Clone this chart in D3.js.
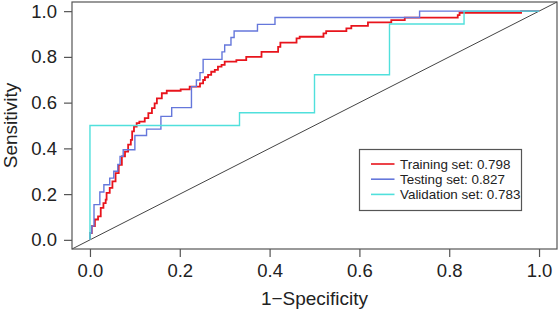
<!DOCTYPE html>
<html>
<head>
<meta charset="utf-8">
<script src="https://cdn.jsdelivr.net/npm/d3@7"></script>
<style>
  body { margin: 0; background: #fff; }
  svg { display: block; font-family: 'Liberation Sans', Arial, Helvetica, sans-serif; }
</style>
</head>
<body>
<div id="chart"></div>
<script>
// ROC curve points: [1-specificity, sensitivity]
const trainingRoc = [
  [0, 0], [0, 0.03], [0.004, 0.03], [0.004, 0.06], [0.011, 0.06], [0.011, 0.089],
  [0.018, 0.089], [0.018, 0.103], [0.024, 0.103], [0.024, 0.14], [0.03, 0.14],
  [0.03, 0.161], [0.035, 0.161], [0.035, 0.176], [0.037, 0.176], [0.037, 0.205],
  [0.044, 0.205], [0.044, 0.227], [0.05, 0.227], [0.05, 0.256], [0.057, 0.256],
  [0.057, 0.292], [0.064, 0.292], [0.064, 0.328], [0.071, 0.328], [0.071, 0.365],
  [0.078, 0.365], [0.078, 0.386], [0.085, 0.386], [0.085, 0.416], [0.091, 0.416],
  [0.091, 0.437], [0.094, 0.437], [0.094, 0.474], [0.098, 0.474], [0.098, 0.495],
  [0.104, 0.495], [0.104, 0.51], [0.11, 0.51], [0.11, 0.517], [0.122, 0.517],
  [0.122, 0.532], [0.13, 0.532], [0.13, 0.554], [0.138, 0.554], [0.138, 0.576],
  [0.144, 0.576], [0.144, 0.597], [0.149, 0.597], [0.149, 0.619], [0.16, 0.619],
  [0.16, 0.641], [0.171, 0.641], [0.171, 0.652], [0.202, 0.652], [0.202, 0.658],
  [0.222, 0.658], [0.222, 0.67], [0.245, 0.67], [0.245, 0.684], [0.252, 0.684],
  [0.252, 0.699], [0.256, 0.699], [0.256, 0.711], [0.263, 0.711], [0.263, 0.721],
  [0.27, 0.721], [0.27, 0.735], [0.278, 0.735], [0.278, 0.743], [0.285, 0.743],
  [0.285, 0.757], [0.293, 0.757], [0.293, 0.765], [0.3, 0.765], [0.3, 0.779],
  [0.326, 0.779], [0.326, 0.786], [0.348, 0.786], [0.348, 0.8], [0.382, 0.8],
  [0.382, 0.822], [0.419, 0.822], [0.419, 0.844], [0.424, 0.844], [0.424, 0.862],
  [0.46, 0.862], [0.46, 0.881], [0.467, 0.881], [0.467, 0.888], [0.52, 0.888],
  [0.52, 0.903], [0.526, 0.903], [0.526, 0.913], [0.571, 0.913], [0.571, 0.925],
  [0.582, 0.925], [0.582, 0.936], [0.619, 0.936], [0.619, 0.951], [0.671, 0.951],
  [0.671, 0.961], [0.701, 0.961], [0.701, 0.972], [0.819, 0.972], [0.819, 0.983],
  [0.823, 0.983], [0.823, 0.993], [0.96, 0.993], [0.96, 1], [1, 1]
]

const testingRoc = [
  [0, 0], [0, 0.03], [0.004, 0.03], [0.004, 0.06], [0.009, 0.06], [0.009, 0.154],
  [0.022, 0.154], [0.022, 0.209], [0.031, 0.209], [0.031, 0.241], [0.044, 0.241],
  [0.044, 0.27], [0.053, 0.27], [0.053, 0.3], [0.062, 0.3], [0.062, 0.33],
  [0.067, 0.33], [0.067, 0.365], [0.074, 0.365], [0.074, 0.394], [0.1, 0.394],
  [0.1, 0.456], [0.126, 0.456], [0.126, 0.484], [0.158, 0.484], [0.158, 0.54],
  [0.182, 0.54], [0.182, 0.578], [0.226, 0.578], [0.226, 0.67], [0.237, 0.67],
  [0.237, 0.699], [0.245, 0.699], [0.245, 0.731], [0.252, 0.731], [0.252, 0.789],
  [0.294, 0.789], [0.294, 0.822], [0.3, 0.822], [0.3, 0.852], [0.314, 0.852],
  [0.314, 0.885], [0.321, 0.885], [0.321, 0.913], [0.373, 0.913], [0.373, 0.942],
  [0.412, 0.942], [0.412, 0.972], [0.734, 0.972], [0.734, 1], [1, 1]
]

const validationRoc = [
  [0, 0], [0, 0.5], [0.333, 0.5], [0.333, 0.556], [0.5, 0.556], [0.5, 0.722],
  [0.667, 0.722], [0.667, 0.944], [0.833, 0.944], [0.833, 1], [1, 1]
]

const seriesNames = ['Training set: 0.798', 'Testing set: 0.827', 'Validation set: 0.783']
const seriesColors = ['#e8141c', '#6577db', '#50e0dc']
const ticks = [0, 0.2, 0.4, 0.6, 0.8, 1.0]

const width = 560
const height = 315
const margin = { left: 72, right: 3, top: 2, bottom: 66 }

const svg = d3.select('#chart')
  .append('svg')
  .attr('width', width)
  .attr('height', height)

// R style: axis range padded by 4% on each side
const x = d3.scaleLinear()
  .domain([-0.04, 1.04])
  .range([margin.left, width - margin.right])
const y = d3.scaleLinear()
  .domain([-0.04, 1.04])
  .range([height - margin.bottom, margin.top])

const plotBottom = height - margin.bottom

// reference diagonal
svg.append('line')
  .attr('x1', x(-0.04)).attr('y1', y(-0.04))
  .attr('x2', x(1.04)).attr('y2', y(1.04))
  .attr('stroke', '#444')
  .attr('stroke-width', 1)

const line = d3.line()
  .x(d => x(d[0]))
  .y(d => y(d[1]))

const curves = [trainingRoc, testingRoc, validationRoc]
const widths = [1.8, 1.4, 1.4]

svg.selectAll('.roc')
  .data(curves)
  .enter()
  .append('path')
  .attr('class', 'roc')
  .attr('d', line)
  .attr('fill', 'none')
  .attr('stroke', (_, i) => seriesColors[i])
  .attr('stroke-width', (_, i) => widths[i])

// box
svg.append('rect')
  .attr('x', margin.left)
  .attr('y', margin.top)
  .attr('width', width - margin.left - margin.right)
  .attr('height', plotBottom - margin.top)
  .attr('fill', 'none')
  .attr('stroke', '#555')
  .attr('stroke-width', 1.2)

// axes
const xAxis = d3.axisBottom(x)
  .tickValues(ticks)
  .tickFormat(d3.format('.1f'))
  .tickSize(8)
  .tickPadding(7)
const yAxis = d3.axisLeft(y)
  .tickValues(ticks)
  .tickFormat(d3.format('.1f'))
  .tickSize(8)
  .tickPadding(7)

const gx = svg.append('g')
  .attr('transform', `translate(0,${plotBottom})`)
  .call(xAxis)
const gy = svg.append('g')
  .attr('transform', `translate(${margin.left},0)`)
  .call(yAxis)

;[gx, gy].forEach(g => {
  g.select('.domain').remove()
  g.selectAll('line').attr('stroke', '#555').attr('stroke-width', 1.2)
  g.selectAll('text')
    .attr('fill', '#222')
    .style('font-size', '18.5px')
    .style('font-family', "'Liberation Sans', Arial, sans-serif")
})

// axis titles
svg.append('text')
  .attr('x', (margin.left + width - margin.right) / 2)
  .attr('y', 305)
  .attr('text-anchor', 'middle')
  .attr('fill', '#222')
  .style('font-size', '19px')
  .text('1\u2212Specificity')

svg.append('text')
  .attr('transform', `translate(17,${(margin.top + plotBottom) / 2}) rotate(-90)`)
  .attr('text-anchor', 'middle')
  .attr('fill', '#222')
  .style('font-size', '19px')
  .text('Sensitivity')

// legend
const legend = svg.append('g')
  .attr('transform', 'translate(359.5,149.5)')

legend.append('rect')
  .attr('width', 162)
  .attr('height', 61)
  .attr('fill', '#fff')
  .attr('stroke', '#555')
  .attr('stroke-width', 1.2)

const rows = legend.selectAll('.row')
  .data(seriesNames)
  .enter()
  .append('g')
  .attr('class', 'row')
  .attr('transform', (_, i) => `translate(0,${14.5 + i * 15.2})`)

rows.append('line')
  .attr('x1', 11.5)
  .attr('x2', 35)
  .attr('stroke', (_, i) => seriesColors[i])
  .attr('stroke-width', 1.6)

rows.append('text')
  .attr('x', 40.5)
  .attr('dy', '0.35em')
  .attr('fill', '#222')
  .style('font-size', '13.4px')
  .text(d => d)
</script>
</body>
</html>
